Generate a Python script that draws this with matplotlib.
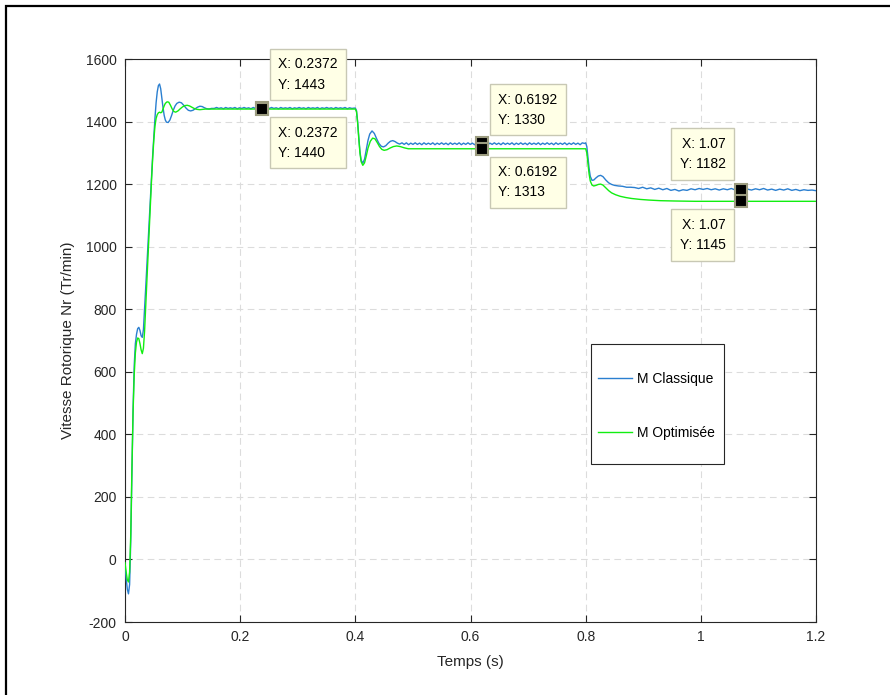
import numpy as np
import matplotlib
matplotlib.use("Agg")
import matplotlib.pyplot as plt
from matplotlib.patches import Rectangle

plt.rcParams['font.family'] = ['Liberation Sans', 'DejaVu Sans']
plt.rcParams['axes.unicode_minus'] = False

# ---------------- data ----------------
# M Classique (blue): start-up transient
blue_start_t = [0.000, 0.002, 0.004, 0.006, 0.008, 0.010, 0.012, 0.014, 0.016, 0.018,
                0.020, 0.022, 0.024, 0.026, 0.028, 0.030, 0.032, 0.034, 0.036, 0.038,
                0.040, 0.042, 0.044, 0.046, 0.048, 0.050, 0.052, 0.054, 0.056, 0.058,
                0.060, 0.062, 0.064, 0.066, 0.068, 0.070, 0.072, 0.075, 0.078, 0.081,
                0.084, 0.087, 0.090, 0.094, 0.098, 0.102, 0.106, 0.110, 0.114, 0.118,
                0.122, 0.126, 0.130, 0.134, 0.138, 0.142, 0.146, 0.150]
blue_start_v = [-20, -60, -95, -110, -80, 60, 280, 480, 620, 690,
                720, 738, 742, 732, 715, 710, 735, 800, 870, 940,
                1010, 1080, 1150, 1220, 1290, 1350, 1410, 1460, 1495, 1515,
                1520, 1505, 1475, 1445, 1420, 1405, 1398, 1397, 1405, 1420,
                1437, 1450, 1458, 1462, 1460, 1452, 1443, 1436, 1434, 1436,
                1441, 1446, 1449, 1448, 1444, 1441, 1440, 1442]
# steady ripple 0.155 -> 0.398
blue_rip1_range = (0.155, 0.398)
blue_rip1_v = [1442, 1445, 1442, 1444, 1441, 1445, 1442, 1444, 1442, 1445, 1441, 1444, 1442, 1445,
               1442, 1444, 1441, 1445, 1442, 1444, 1442, 1445, 1441, 1444, 1442, 1445, 1442, 1444,
               1441, 1445, 1442, 1444, 1442, 1445, 1441, 1444, 1442, 1445, 1442, 1444, 1441, 1445,
               1442, 1444, 1442, 1445, 1441, 1444, 1442, 1445, 1442, 1444, 1441, 1445, 1442, 1444,
               1442, 1445, 1441, 1444, 1442, 1443]
# load step at 0.4 s
blue_step1_t = [0.400, 0.402, 0.404, 0.406, 0.408, 0.410, 0.413, 0.416, 0.419, 0.422,
                0.425, 0.429, 0.433, 0.437, 0.441, 0.445, 0.449, 0.453, 0.457, 0.461,
                0.465, 0.469, 0.473, 0.477]
blue_step1_v = [1443, 1435, 1400, 1350, 1305, 1277, 1267, 1280, 1310, 1340,
                1360, 1370, 1362, 1345, 1330, 1321, 1319, 1323, 1331, 1337,
                1339, 1336, 1331, 1328]
blue_rip2_range = (0.481, 0.798)
blue_rip2_v = [1332, 1327, 1332, 1326, 1331, 1327, 1332, 1327, 1331, 1326, 1332, 1327, 1331, 1327,
               1332, 1326, 1331, 1327, 1332, 1327, 1331, 1326, 1332, 1327, 1331, 1327, 1332, 1326,
               1331, 1327, 1332, 1327, 1331, 1326, 1332, 1327, 1331, 1327, 1332, 1326, 1331, 1327,
               1332, 1327, 1331, 1326, 1332, 1327, 1331, 1327, 1332, 1326, 1331, 1327, 1332, 1327,
               1331, 1326, 1332, 1327, 1331, 1327, 1332, 1326, 1331, 1327, 1332, 1327, 1331, 1326,
               1332, 1327, 1331, 1327, 1332, 1326, 1331, 1327, 1332, 1327, 1331, 1326, 1332, 1330]
# load step at 0.8 s
blue_step2_t = [0.800, 0.802, 0.804, 0.806, 0.808, 0.811, 0.814, 0.818, 0.822, 0.826,
                0.830, 0.835, 0.840, 0.845, 0.850, 0.857, 0.864, 0.871, 0.878]
blue_step2_v = [1332, 1320, 1285, 1250, 1225, 1212, 1213, 1220, 1226, 1228,
                1224, 1213, 1204, 1199, 1196, 1194, 1193, 1190, 1190]
blue_rip3_range = (0.885, 1.200)
blue_rip3_v = [1189, 1186, 1190, 1185, 1188, 1183, 1187, 1182, 1186, 1180, 1183, 1178, 1182, 1180,
               1185, 1182, 1186, 1183, 1186, 1182, 1185, 1181, 1185, 1182, 1186, 1181, 1185, 1180,
               1184, 1181, 1185, 1182, 1186, 1181, 1184, 1180, 1184, 1181, 1185, 1180, 1183, 1179,
               1182, 1180, 1181, 1179]

# M Optimisee (green)
green_t = [0.000, 0.002, 0.004, 0.006, 0.008, 0.010, 0.012, 0.014, 0.016, 0.018,
           0.020, 0.022, 0.024, 0.026, 0.028, 0.030, 0.032, 0.034, 0.036, 0.038,
           0.040, 0.042, 0.044, 0.046, 0.048, 0.050, 0.052, 0.054, 0.056, 0.058,
           0.060, 0.062, 0.064, 0.066, 0.068, 0.070, 0.073, 0.076, 0.079, 0.082,
           0.085, 0.088, 0.092, 0.096, 0.100, 0.104, 0.108, 0.112, 0.116, 0.120,
           0.125, 0.130, 0.135, 0.140, 0.400,
           0.402, 0.404, 0.406, 0.408, 0.410, 0.413, 0.416, 0.419, 0.422, 0.426,
           0.430, 0.434, 0.438, 0.442, 0.446, 0.450, 0.455, 0.460, 0.466, 0.472,
           0.478, 0.485, 0.492, 0.500, 0.800,
           0.802, 0.804, 0.806, 0.808, 0.811, 0.814, 0.818, 0.822, 0.826, 0.830,
           0.835, 0.840, 0.845, 0.852, 0.860, 0.870, 0.880, 0.895, 0.910, 0.930,
           0.955, 0.990, 1.200]
green_v = [-10, -40, -65, -72, -40, 80, 290, 470, 590, 660,
           695, 708, 706, 690, 670, 658, 675, 730, 810, 890,
           970, 1050, 1130, 1210, 1280, 1340, 1385, 1410, 1422, 1428,
           1430, 1428, 1430, 1440, 1450, 1458, 1463, 1462, 1452, 1440,
           1432, 1430, 1434, 1441, 1447, 1451, 1452, 1450, 1446, 1442,
           1439, 1438, 1439, 1440, 1440,
           1432, 1395, 1345, 1300, 1272, 1260, 1268, 1290, 1315, 1337,
           1347, 1345, 1333, 1320, 1311, 1308, 1310, 1315, 1320, 1322,
           1320, 1316, 1313, 1313, 1313,
           1300, 1265, 1232, 1210, 1197, 1194, 1196, 1199, 1200, 1197,
           1188, 1179, 1172, 1166, 1161, 1157, 1154, 1151, 1149, 1147,
           1146, 1145, 1145]

series_labels = ["M Classique", "M Optimisée"]
x_ticks = [0, 0.2, 0.4, 0.6, 0.8, 1.0, 1.2]
x_tick_labels = ["0", "0.2", "0.4", "0.6", "0.8", "1", "1.2"]
y_ticks = [-200, 0, 200, 400, 600, 800, 1000, 1200, 1400, 1600]

# data tips: (x, y, placement)
tips = [(0.2372, 1443, "upper_right"), (0.2372, 1440, "lower_right"),
        (0.6192, 1330, "upper_right"), (0.6192, 1313, "lower_right"),
        (1.07, 1182, "upper_left"), (1.07, 1145, "lower_left")]
tip_x_labels = ["0.2372", "0.2372", "0.6192", "0.6192", "1.07", "1.07"]

# ---------------- assemble blue series ----------------
blue_t = (blue_start_t
          + list(np.linspace(*blue_rip1_range, len(blue_rip1_v)))
          + blue_step1_t
          + list(np.linspace(*blue_rip2_range, len(blue_rip2_v)))
          + blue_step2_t
          + list(np.linspace(*blue_rip3_range, len(blue_rip3_v))))
blue_v = blue_start_v + blue_rip1_v + blue_step1_v + blue_rip2_v + blue_step2_v + blue_rip3_v

# ---------------- figure ----------------
W, H = 890, 695
fig = plt.figure(figsize=(W / 100, H / 100), dpi=100)
AX_L, AX_R, AX_T, AX_B = 125, 816, 59, 622
ax = fig.add_axes([AX_L / W, 1 - AX_B / H, (AX_R - AX_L) / W, (AX_B - AX_T) / H])


def ax_frac(px, py):
    return (px - AX_L) / (AX_R - AX_L), 1 - (py - AX_T) / (AX_B - AX_T)


blue_c = '#2a7fd0'
green_c = '#11ee11'
ax.plot(blue_t, blue_v, color=blue_c, lw=1.0, label=series_labels[0], zorder=3)
ax.plot(green_t, green_v, color=green_c, lw=1.0, label=series_labels[1], zorder=3)

ax.set_xlim(0, 1.2)
ax.set_ylim(-200, 1600)
ax.set_xticks(x_ticks)
ax.set_xticklabels(x_tick_labels)
ax.set_yticks(y_ticks)
ax.tick_params(direction='in', length=5, width=0.8, top=True, right=True,
               labelsize=10, colors='#262626', pad=6)
for s in ax.spines.values():
    s.set_color('#262626')
    s.set_linewidth(0.8)
ax.grid(True, color='#dcdcdc', linestyle=(0, (6, 4)), linewidth=0.8, zorder=0)
ax.set_axisbelow(True)

ax.set_xlabel("Temps (s)", fontsize=11, color='#262626', labelpad=8)
ax.set_ylabel("Vitesse Rotorique Nr (Tr/min)", fontsize=11, color='#262626', labelpad=8)

# legend: entries without frame, frame drawn as separate rectangle
leg = ax.legend(loc='upper left', bbox_to_anchor=ax_frac(598, 372), fontsize=10,
                frameon=False, labelspacing=2.9, handlelength=2.45,
                handletextpad=0.36, borderpad=0, borderaxespad=0)
fx0, fy0 = ax_frac(591, 464)
fx1, fy1 = ax_frac(724, 344)
ax.add_patch(Rectangle((fx0, fy0), fx1 - fx0, fy1 - fy0, transform=ax.transAxes,
                       facecolor='white', edgecolor='#262626', linewidth=0.8, zorder=4))
leg.set_zorder(5)

# data tips
pad_px = 8.6
for (tx, ty, place), xl in zip(tips, tip_x_labels):
    ax.plot([tx], [ty], marker='s', markersize=8.5, markerfacecolor='black',
            markeredgecolor='#9c9c80', markeredgewidth=1.5, zorder=6, linestyle='none')
    txt = f"X: {xl}\nY: {ty}"
    if place == "upper_right":
        off, ha, va = (8 + pad_px, 8 + pad_px), 'left', 'bottom'
    elif place == "lower_right":
        off, ha, va = (8 + pad_px, -(8 + pad_px)), 'left', 'top'
    elif place == "upper_left":
        off, ha, va = (-(7 + pad_px), 10 + pad_px), 'right', 'bottom'
    else:
        off, ha, va = (-(7 + pad_px), -(8 + pad_px)), 'right', 'top'
    ax.annotate(txt, xy=(tx, ty), xytext=off, textcoords='offset pixels',
                ha=ha, va=va, fontsize=10, linespacing=1.55, color='black',
                bbox=dict(boxstyle='square,pad=0.62', facecolor='#ffffe6',
                          edgecolor='#c8c8b4', linewidth=1.0),
                zorder=7, annotation_clip=False)

# figure border (left and top visible)
fig.patches.append(Rectangle((6 / W, -0.02), 1.0, 1 - 6 / H + 0.02,
                             transform=fig.transFigure, fill=False,
                             edgecolor='black', linewidth=1.6))

fig.savefig("out.png", dpi=100)
